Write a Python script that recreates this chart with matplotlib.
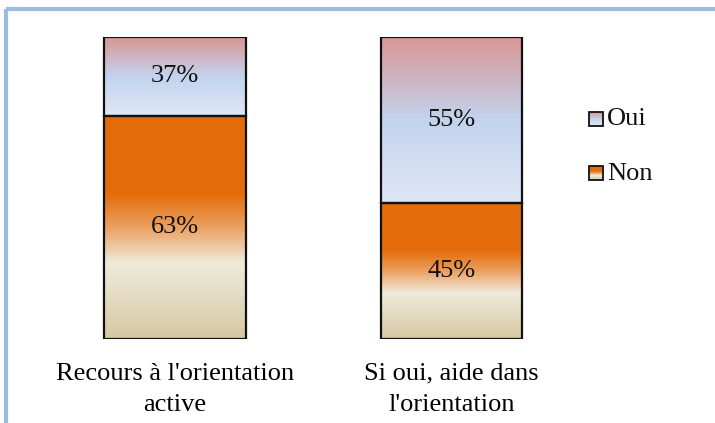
import numpy as np
import matplotlib
matplotlib.use("Agg")
import matplotlib.pyplot as plt
from matplotlib.colors import LinearSegmentedColormap
from matplotlib.patches import Rectangle

# ---- data ----
categories = ["Recours à l'orientation\nactive", "Si oui, aide dans\nl'orientation"]
series = ["Oui", "Non"]
non_heights = [74, 45]      # bar heights as drawn in the reference
oui_heights = [26, 55]
non_labels = ["63%", "45%"]
oui_labels = ["37%", "55%"]

plt.rcParams['font.family'] = ['Liberation Serif', 'DejaVu Serif']

oui_cmap = LinearSegmentedColormap.from_list(
    "oui", [(0.0, "#d99694"), (0.5, "#c3d3ee"), (1.0, "#dfe7f5")])
non_cmap = LinearSegmentedColormap.from_list(
    "non", [(0.0, "#e46c0a"), (0.35, "#e46c0a"), (0.5, "#eba060"),
            (0.66, "#efeadb"), (1.0, "#d5c8a3")])

W, H = 715, 423
fig = plt.figure(figsize=(W / 100, H / 100), dpi=100)

# overlay axes in pixel coordinates (frame + legend)
ov = fig.add_axes([0, 0, 1, 1])
ov.set_xlim(0, W)
ov.set_ylim(H, 0)
ov.axis("off")
ov.plot([6, 6], [H + 5, 9], color="#9dbbe3", lw=3, solid_capstyle="butt")
ov.plot([6, W + 5], [9, 9], color="#9dbbe3", lw=3, solid_capstyle="butt")

# main axes
ax_left, ax_right = 36.75, 589.75
ax_top, ax_bot = 37, 339
ax = fig.add_axes([ax_left / W, (H - ax_bot) / H, (ax_right - ax_left) / W, (ax_bot - ax_top) / H])
ax.set_xlim(-0.5, 1.5)
ax.set_ylim(0, 100)
ax.patch.set_alpha(0)
for s in ax.spines.values():
    s.set_visible(False)
ax.set_yticks([])

grad = np.linspace(0, 1, 256).reshape(-1, 1)
width = 0.513
x = np.arange(len(categories))
FS = 19


def gbar(xc, bottom, h, cmap, label):
    rect = Rectangle((xc - width / 2, bottom), width, h, facecolor="none",
                     edgecolor="none")
    ax.add_patch(rect)
    im = ax.imshow(grad, cmap=cmap, aspect="auto", origin="upper",
                   extent=(xc - width / 2, xc + width / 2, bottom, bottom + h),
                   zorder=1, interpolation="bilinear")
    im.set_clip_path(rect)
    edge = Rectangle((xc - width / 2, bottom), width, h, facecolor="none",
                     edgecolor="#111111", lw=1.6, zorder=3)
    ax.add_patch(edge)
    ax.text(xc, bottom + h / 2, label, ha="center", va="center",
            fontsize=FS, color="#111111", zorder=4)


for i in range(len(categories)):
    gbar(x[i], 0, non_heights[i], non_cmap, non_labels[i])
    gbar(x[i], non_heights[i], oui_heights[i], oui_cmap, oui_labels[i])

ax.set_xlim(-0.5, 1.5)
ax.set_ylim(0, 100)
ax.set_xticks(x)
ax.set_xticklabels(categories, fontsize=FS, linespacing=1.55)
ax.tick_params(axis="x", length=0, pad=17)

# legend (manual, gradient swatches)
leg_y = [119, 173.5]
cmaps = [oui_cmap, non_cmap]
for name, yc, cm in zip(series, leg_y, cmaps):
    ov.imshow(grad, cmap=cm, aspect="auto", origin="upper",
              extent=(589, 603, yc + 7, yc - 7), zorder=2)
    ov.add_patch(Rectangle((589, yc - 7), 14, 14, facecolor="none",
                           edgecolor="#111111", lw=1.3, zorder=3))
    ov.text(607, yc, name, ha="left", va="center", fontsize=FS, color="#111111")
ov.set_xlim(0, W)
ov.set_ylim(H, 0)

fig.savefig("out.png", dpi=100)
